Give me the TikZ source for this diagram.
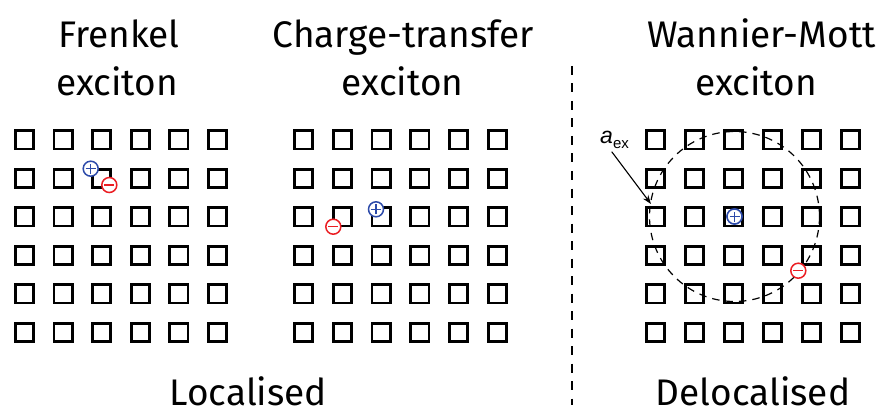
\documentclass[tikz,border=0pt]{standalone}
\usepackage{fontspec}
\setmainfont{Fira Sans}
\newfontfamily\symbolfont{Liberation Sans}
\usetikzlibrary{arrows.meta}
\definecolor{holeblue}{RGB}{45,75,170}
\definecolor{elecred}{RGB}{235,30,35}
\tikzset{
  site/.style={shape=rectangle, draw=black, line width=2.8pt, minimum size=18.3pt, inner sep=0pt},
  heading/.style={font=\fontsize{37}{44}\selectfont, anchor=base, inner sep=0pt},
  charge/.style={circle, draw=#1, fill=white, line width=1.5pt, minimum size=15pt, inner sep=0pt},
  sign/.style={draw=#1, line width=1.5pt},
  radiusline/.style={draw=black, line width=1.2pt, dash pattern=on 7.5pt off 6pt},
  divider/.style={draw=black, line width=1.8pt, dash pattern=on 9pt off 8.5pt},
  pointer/.style={draw=black, line width=1.1pt, -{Stealth[length=9pt,width=6.5pt]}},
}
\newcommand{\plussign}[1]{%
  \draw[sign=holeblue] ([xshift=-5pt]#1.center) -- ([xshift=5pt]#1.center);
  \draw[sign=holeblue] ([yshift=-5pt]#1.center) -- ([yshift=5pt]#1.center);}
\newcommand{\minussign}[1]{%
  \draw[sign=elecred] ([xshift=-5pt]#1.center) -- ([xshift=5pt]#1.center);}
\begin{document}
\begin{tikzpicture}[x=1pt,y=-1pt]
\useasboundingbox (0,0) rectangle (877,414);

% three 6x6 lattices of molecular sites
\foreach \lat/\xo/\dx in {F/24.5/38.6, C/303.5/38.8, W/655.5/39} {
  \foreach \i in {0,...,5} {
    \foreach \j in {0,...,5} {
      \node[site] (\lat-\i-\j) at ({\xo+\dx*\i},{139.8+38.5*\j}) {};
    }
  }
}

% headings
\node[heading] (fr1) at (119,47.3) {Frenkel};
\node[heading] (fr2) at (117,96) {exciton};
\node[heading] (ct1) at (403.3,47.3) {Charge-transfer};
\node[heading] (ct2) at (402.5,96) {exciton};
\node[heading] (wm1) at (761.5,47.3) {Wannier-Mott};
\node[heading] (wm2) at (756,96) {exciton};
\node[heading] (loc) at (248.3,405) {Localised};
\node[heading] (deloc) at (753,405) {Delocalised};

% divider between localised and delocalised
\coordinate (divtop) at (571.7,66);
\coordinate (divbot) at (571.7,405);
\draw[divider] (divtop) -- (divbot);

% Wannier-Mott exciton radius
\node[charge=holeblue] (wh) at (734.5,216.5) {};
\draw[radiusline] (wh.center) circle[radius=85pt];
\node[charge=holeblue] (wh2) at (wh.center) {};
\plussign{wh2}
\node[charge=elecred] (we) at (798.3,270.7) {};
\minussign{we}

% Frenkel exciton
\node[charge=holeblue] (fh) at (90.7,168.7) {};
\plussign{fh}
\node[charge=elecred] (fe) at (109.3,185) {};
\minussign{fe}

% charge-transfer exciton
\node[charge=holeblue] (ch) at (376,209.3) {};
\plussign{ch}
\node[charge=elecred] (ce) at (333.3,226.7) {};
\minussign{ce}

% radius label and arrow
\node[anchor=base west, inner sep=0pt] (aex) at (600,144)
  {\symbolfont\fontsize{23}{23}\selectfont\textit{a}\raisebox{-5pt}{\fontsize{15}{15}\selectfont ex}};
\coordinate (atail) at (611.7,151.7);
\coordinate (ahead) at (651,204);
\draw[pointer] (atail) -- (ahead);
\end{tikzpicture}
\end{document}
